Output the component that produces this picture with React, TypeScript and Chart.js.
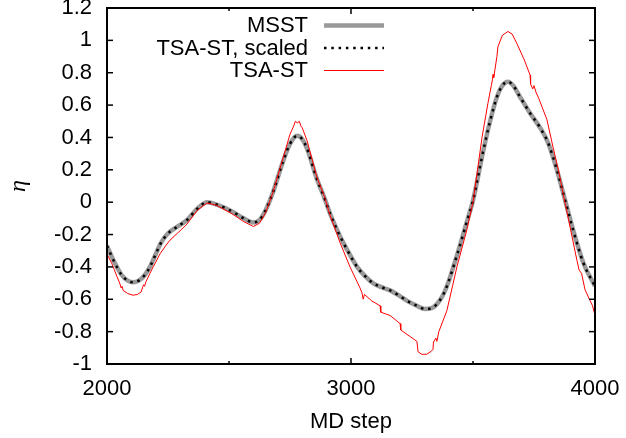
import React, { useEffect, useRef } from 'react';
import { Chart, registerables } from 'chart.js';

Chart.register(...registerables);

// ---- data ----
const MSST_X = [2000, 2030, 2060, 2085, 2107, 2130, 2155, 2176, 2200, 2220, 2240, 2260, 2290, 2328, 2370, 2410, 2450, 2516, 2560, 2600, 2625, 2650, 2680, 2721, 2750, 2779, 2800, 2820, 2861, 2890, 2914, 2955, 2990, 3025, 3060, 3090, 3125, 3160, 3200, 3230, 3270, 3303, 3330, 3352, 3375, 3393, 3434, 3475, 3500, 3541, 3570, 3598, 3620, 3643, 3665, 3693, 3734, 3775, 3807, 3840, 3869, 3910, 3951, 4000];
const MSST_Y = [-0.27, -0.37, -0.45, -0.485, -0.495, -0.485, -0.45, -0.40, -0.32, -0.255, -0.21, -0.18, -0.15, -0.11, -0.04, 0.0, -0.015, -0.06, -0.10, -0.125, -0.11, -0.05, 0.06, 0.25, 0.36, 0.41, 0.39, 0.33, 0.14, 0.03, -0.07, -0.21, -0.31, -0.40, -0.46, -0.50, -0.525, -0.545, -0.58, -0.61, -0.64, -0.66, -0.655, -0.63, -0.58, -0.52, -0.33, -0.12, 0.01, 0.31, 0.50, 0.65, 0.72, 0.745, 0.72, 0.65, 0.55, 0.46, 0.37, 0.22, 0.06, -0.17, -0.37, -0.52];

const SCALED_X = [2000, 2030, 2060, 2085, 2107, 2130, 2155, 2176, 2200, 2220, 2240, 2260, 2290, 2328, 2370, 2410, 2450, 2516, 2560, 2600, 2625, 2650, 2680, 2721, 2750, 2779, 2800, 2820, 2861, 2890, 2914, 2955, 2990, 3025, 3060, 3090, 3125, 3160, 3200, 3230, 3270, 3303, 3330, 3352, 3375, 3393, 3434, 3475, 3500, 3541, 3570, 3598, 3620, 3643, 3665, 3693, 3734, 3775, 3807, 3840, 3869, 3910, 3951, 4000];
const SCALED_Y = [-0.27, -0.37, -0.45, -0.485, -0.495, -0.485, -0.45, -0.40, -0.32, -0.255, -0.21, -0.18, -0.15, -0.11, -0.04, 0.0, -0.015, -0.06, -0.10, -0.125, -0.11, -0.05, 0.06, 0.25, 0.36, 0.41, 0.39, 0.33, 0.14, 0.03, -0.07, -0.21, -0.31, -0.40, -0.46, -0.50, -0.525, -0.545, -0.58, -0.61, -0.64, -0.66, -0.655, -0.63, -0.58, -0.52, -0.33, -0.12, 0.01, 0.31, 0.50, 0.65, 0.72, 0.745, 0.72, 0.65, 0.55, 0.46, 0.37, 0.22, 0.06, -0.17, -0.37, -0.52];

const TSA_X = [2000, 2020, 2041, 2052, 2058, 2062, 2066, 2085, 2107, 2125, 2140, 2145, 2150, 2154, 2160, 2176, 2189, 2200, 2217, 2240, 2258, 2290, 2328, 2370, 2410, 2450, 2516, 2560, 2600, 2625, 2650, 2680, 2721, 2750, 2765, 2772, 2780, 2788, 2795, 2800, 2805, 2820, 2861, 2890, 2914, 2955, 2996, 3037, 3045, 3050, 3055, 3085, 3119, 3122, 3160, 3201, 3204, 3242, 3270, 3275, 3290, 3310, 3330, 3336, 3338, 3348, 3352, 3360, 3393, 3434, 3475, 3500, 3537, 3561, 3575, 3580, 3582, 3585, 3598, 3602, 3620, 3643, 3660, 3680, 3710, 3734, 3736, 3745, 3750, 3758, 3770, 3803, 3828, 3850, 3869, 3898, 3926, 3935, 3945, 3959, 3980, 3990, 4000];
const TSA_Y = [-0.32, -0.38, -0.46, -0.50, -0.53, -0.52, -0.545, -0.565, -0.575, -0.57, -0.555, -0.53, -0.51, -0.52, -0.49, -0.44, -0.40, -0.37, -0.32, -0.27, -0.235, -0.19, -0.135, -0.05, -0.005, -0.02, -0.075, -0.12, -0.15, -0.13, -0.065, 0.06, 0.27, 0.42, 0.47, 0.50, 0.49, 0.50, 0.47, 0.46, 0.44, 0.38, 0.15, 0.04, -0.08, -0.25, -0.40, -0.53, -0.56, -0.60, -0.57, -0.61, -0.64, -0.68, -0.70, -0.75, -0.79, -0.83, -0.86, -0.925, -0.94, -0.94, -0.92, -0.91, -0.865, -0.84, -0.86, -0.80, -0.67, -0.40, -0.17, 0.0, 0.40, 0.61, 0.72, 0.76, 0.79, 0.77, 0.90, 0.96, 1.03, 1.055, 1.04, 0.98, 0.88, 0.785, 0.73, 0.70, 0.72, 0.68, 0.64, 0.51, 0.34, 0.20, 0.055, -0.155, -0.36, -0.42, -0.44, -0.54, -0.61, -0.64, -0.70];

const SERIES_LABELS = ['MSST', 'TSA-ST, scaled', 'TSA-ST'];
const X_MIN = 2000, X_MAX = 4000, X_STEP = 500, X_LABEL_STEP = 1000;
const Y_MIN = -1, Y_MAX = 1.2, Y_STEP = 0.2;
const X_TITLE = 'MD step';
const Y_TITLE = 'η';

const FONT = '"Liberation Sans", Arial, sans-serif';

const toPts = (xs: number[], ys: number[]) => xs.map((x, i) => ({ x, y: ys[i] }));

const gnuplotPlugin = {
  id: 'gnuplotDecor',
  afterDraw(chart: any) {
    const { ctx, chartArea: a, scales } = chart;
    ctx.save();
    ctx.strokeStyle = '#000';
    ctx.lineWidth = 1.5;
    const seg = (x1: number, y1: number, x2: number, y2: number) => {
      ctx.beginPath(); ctx.moveTo(x1, y1); ctx.lineTo(x2, y2); ctx.stroke();
    };
    const xs = scales.x;
    xs.ticks.forEach((t: any) => {
      const px = xs.getPixelForValue(t.value);
      const len = Math.abs(t.value % X_LABEL_STEP) < 1e-6 ? 6 : 3;
      seg(px, a.bottom, px, a.bottom - len);
      seg(px, a.top, px, a.top + len);
    });
    const ys = scales.y;
    ys.ticks.forEach((t: any) => {
      const py = ys.getPixelForValue(t.value);
      seg(a.left, py, a.left + 6, py);
      seg(a.right, py, a.right - 6, py);
    });
    ctx.lineWidth = 2;
    ctx.strokeRect(a.left, a.top, a.right - a.left, a.bottom - a.top);

    // legend (gnuplot style: right-aligned text, sample to the right)
    const textRight = a.left + 201;
    const sampleL = a.left + 217;
    const sampleR = a.left + 277;
    const rowY0 = a.top + 17.5;
    const rowH = 22.5;
    ctx.font = `22px ${FONT}`;
    ctx.fillStyle = '#000';
    ctx.textAlign = 'right';
    ctx.textBaseline = 'middle';
    chart.data.datasets.forEach((ds: any, i: number) => {
      const y = rowY0 + i * rowH;
      ctx.fillText(ds.label, textRight, y + 0.5);
      ctx.save();
      ctx.strokeStyle = ds.borderColor;
      ctx.lineWidth = ds.borderWidth;
      ctx.setLineDash(ds.borderDash || []);
      ctx.lineCap = 'butt';
      seg(sampleL, y, sampleR, y);
      ctx.restore();
    });
    ctx.restore();
  },
};

export default function App() {
  const ref = useRef<HTMLCanvasElement | null>(null);
  useEffect(() => {
    if (!ref.current) return;
    const chart = new Chart(ref.current, {
      type: 'scatter',
      data: {
        datasets: [
          {
            label: SERIES_LABELS[0],
            data: toPts(MSST_X, MSST_Y),
            showLine: true,
            borderColor: '#999999',
            borderWidth: 4.5,
            pointRadius: 0,
            cubicInterpolationMode: 'monotone',
            order: 3,
          },
          {
            label: SERIES_LABELS[1],
            data: toPts(SCALED_X, SCALED_Y),
            showLine: true,
            borderColor: '#000000',
            borderWidth: 2.5,
            borderDash: [2.5, 4.8],
            pointRadius: 0,
            cubicInterpolationMode: 'monotone',
            order: 2,
          },
          {
            label: SERIES_LABELS[2],
            data: toPts(TSA_X, TSA_Y),
            showLine: true,
            borderColor: '#ff0000',
            borderWidth: 1,
            pointRadius: 0,
            tension: 0,
            order: 1,
          },
        ],
      } as any,
      options: {
        animation: false,
        responsive: false,
        devicePixelRatio: 1,
        layout: { padding: { left: 0, top: 8, right: 31, bottom: 0 } },
        plugins: { legend: { display: false }, tooltip: { enabled: false } },
        scales: {
          x: {
            type: 'linear',
            min: X_MIN,
            max: X_MAX,
            grid: { display: false, drawTicks: false },
            border: { display: false },
            ticks: {
              stepSize: X_STEP,
              padding: 12,
              color: '#000',
              font: { family: FONT, size: 22 },
              maxRotation: 0,
              autoSkip: false,
              callback: (v: any) => (Math.abs(Number(v) % X_LABEL_STEP) < 1e-6 ? String(v) : ''),
            },
            title: {
              display: true,
              text: X_TITLE,
              color: '#000',
              font: { family: FONT, size: 22 },
              padding: { top: 0, bottom: 3 },
            },
            afterFit: (s: any) => { s.height = 74; s.paddingLeft = 0; s.paddingRight = 0; },
          },
          y: {
            type: 'linear',
            min: Y_MIN,
            max: Y_MAX,
            grid: { display: false, drawTicks: false },
            border: { display: false },
            ticks: {
              stepSize: Y_STEP,
              padding: 15,
              color: '#000',
              font: { family: FONT, size: 22 },
              autoSkip: false,
              callback: (v: any) => {
                const n = Number(Number(v).toFixed(1));
                return (n === 0 ? 0 : n).toString();
              },
            },
            title: {
              display: true,
              text: Y_TITLE,
              color: '#000',
              font: { family: '"Liberation Serif", serif', size: 24, style: 'italic' },
              padding: { top: 4, bottom: 0 },
            },
            afterFit: (s: any) => { s.width = 107; s.paddingTop = 0; s.paddingBottom = 0; },
          },
        },
      } as any,
      plugins: [gnuplotPlugin],
    });
    return () => chart.destroy();
  }, []);
  return (
    <div style={{ position: 'absolute', left: 0, top: 0, width: 626, height: 438, background: '#fff' }}>
      <canvas ref={ref} width={626} height={438} />
    </div>
  );
}
